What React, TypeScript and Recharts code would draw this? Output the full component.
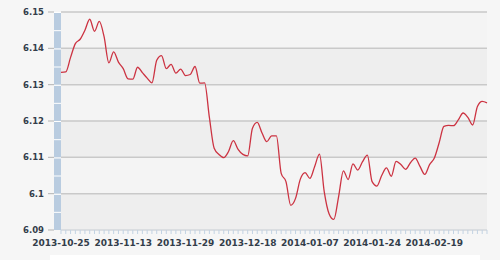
import { CartesianGrid, Line, LineChart, XAxis, YAxis } from "recharts";

// trading days shown on the category axis (labels every 13th point)
const dates = [
  "2013-10-25", "2013-10-28", "2013-10-29", "2013-10-30", "2013-10-31", "2013-11-01",
  "2013-11-04", "2013-11-05", "2013-11-06", "2013-11-07", "2013-11-08", "2013-11-11",
  "2013-11-12", "2013-11-13", "2013-11-14", "2013-11-15", "2013-11-16", "2013-11-18",
  "2013-11-19", "2013-11-20", "2013-11-21", "2013-11-22", "2013-11-25", "2013-11-26",
  "2013-11-27", "2013-11-28", "2013-11-29", "2013-12-02", "2013-12-03", "2013-12-04",
  "2013-12-05", "2013-12-06", "2013-12-09", "2013-12-10", "2013-12-11", "2013-12-12",
  "2013-12-13", "2013-12-16", "2013-12-17", "2013-12-18", "2013-12-19", "2013-12-20",
  "2013-12-23", "2013-12-24", "2013-12-25", "2013-12-26", "2013-12-27", "2013-12-30",
  "2013-12-31", "2014-01-02", "2014-01-03", "2014-01-06", "2014-01-07", "2014-01-08",
  "2014-01-09", "2014-01-10", "2014-01-13", "2014-01-14", "2014-01-15", "2014-01-16",
  "2014-01-17", "2014-01-20", "2014-01-21", "2014-01-22", "2014-01-23", "2014-01-24",
  "2014-01-27", "2014-01-28", "2014-01-29", "2014-01-30", "2014-02-07", "2014-02-10",
  "2014-02-11", "2014-02-12", "2014-02-13", "2014-02-14", "2014-02-17", "2014-02-18",
  "2014-02-19", "2014-02-20", "2014-02-21", "2014-02-24", "2014-02-25", "2014-02-26",
  "2014-02-27", "2014-02-28", "2014-03-03", "2014-03-04", "2014-03-05", "2014-03-06",
];

const rates = [
  6.1334, 6.1335, 6.1375, 6.1413, 6.1425, 6.145, 6.148, 6.1447, 6.1474, 6.1432,
  6.136, 6.139, 6.1362, 6.1344, 6.1316, 6.1315, 6.1348, 6.1333, 6.1318, 6.1305,
  6.1367, 6.138, 6.1344, 6.1356, 6.1332, 6.1343, 6.1325, 6.1328, 6.135, 6.1304,
  6.1305, 6.121, 6.1125, 6.1108, 6.1099, 6.1116, 6.1146, 6.1122, 6.1108, 6.1104,
  6.118, 6.1196, 6.1167, 6.1143, 6.1159, 6.1159, 6.1056, 6.1033, 6.0968, 6.0987,
  6.104, 6.1058, 6.1042, 6.1075, 6.1109, 6.1005, 6.0945, 6.0929, 6.0992, 6.1063,
  6.1039, 6.1082, 6.1065, 6.1088, 6.1106, 6.1033, 6.1021, 6.105, 6.1071, 6.1048,
  6.1089, 6.108, 6.1067, 6.1085, 6.1098, 6.1075, 6.1053, 6.108, 6.1098, 6.114,
  6.1185, 6.1188, 6.1187, 6.1203, 6.1222, 6.121, 6.1189, 6.124, 6.1254, 6.125,
];

const yTicks = [6.09, 6.1, 6.11, 6.12, 6.13, 6.14, 6.15];
const LABEL_EVERY = 13;

const data = dates.map((d, i) => ({ date: d, rate: rates[i] }));

const W = 500;
const H = 260;
const MARGIN = { top: 12, right: 13, bottom: 5, left: 0 };
const X_AXIS_H = 25;
const Y_AXIS_W = 61;
const PLOT_H = H - MARGIN.top - MARGIN.bottom - X_AXIS_H;
const STEP = PLOT_H / (yTicks.length - 1);

const TEXT = "#333d4a";
const FONT = "DejaVu Sans, Verdana, sans-serif";

function YTick({ y, payload, index }: any) {
  const isBottom = index === 0;
  return (
    <g>
      <text
        x={44}
        y={y}
        textAnchor="end"
        dominantBaseline="central"
        fontSize={8.5}
        fontWeight="bold"
        fontFamily={FONT}
        fill={TEXT}
      >
        {String(payload.value)}
      </text>
      <line x1={48} x2={54} y1={y} y2={y} stroke="#b4b4b4" strokeWidth={1} />
      {!isBottom && (
        <g>
          <rect x={54} y={y + 1} width={7} height={STEP - 1} fill="#b9cce0" />
          <rect x={54} y={y} width={7} height={1} fill="#ffffff" />
          <rect x={54} y={y + STEP / 2} width={7} height={1} fill="#ffffff" />
        </g>
      )}
    </g>
  );
}

function XTick({ x, y, payload, index }: any) {
  if (index % LABEL_EVERY !== 0) return null;
  return (
    <text
      x={x}
      y={y}
      dy="0.71em"
      textAnchor="middle"
      fontSize={9}
      fontWeight="bold"
      fontFamily={FONT}
      fill={TEXT}
    >
      {payload.value}
    </text>
  );
}

export default function App() {
  return (
    <div
      style={{
        position: "absolute",
        left: 0,
        top: 0,
        width: W,
        height: H,
        background: "#f6f6f6",
      }}
    >
      <LineChart width={W} height={H} data={data} margin={MARGIN}>
        <CartesianGrid
          vertical={false}
          stroke="#c9c9c9"
          strokeWidth={1.5}
          fill="#f3f3f3"
          horizontalFill={["#f4f4f4", "#eeeeee"]}
        />
        <XAxis
          dataKey="date"
          interval={0}
          height={X_AXIS_H}
          tick={<XTick />}
          tickLine={{ stroke: "#c3d3e3" }}
          tickSize={4}
          tickMargin={6}
          axisLine={{ stroke: "#e2e8ef" }}
        />
        <YAxis
          type="number"
          domain={[6.09, 6.15]}
          ticks={yTicks}
          width={Y_AXIS_W}
          tick={<YTick />}
          tickLine={false}
          axisLine={false}
          allowDataOverflow
        />
        <Line
          type="monotone"
          dataKey="rate"
          stroke="#cc3342"
          strokeWidth={1.3}
          dot={false}
          isAnimationActive={false}
        />
      </LineChart>
      <div
        style={{
          position: "absolute",
          left: 50,
          top: 255,
          width: 430,
          height: 5,
          background: "#ffffff",
        }}
      />
    </div>
  );
}
